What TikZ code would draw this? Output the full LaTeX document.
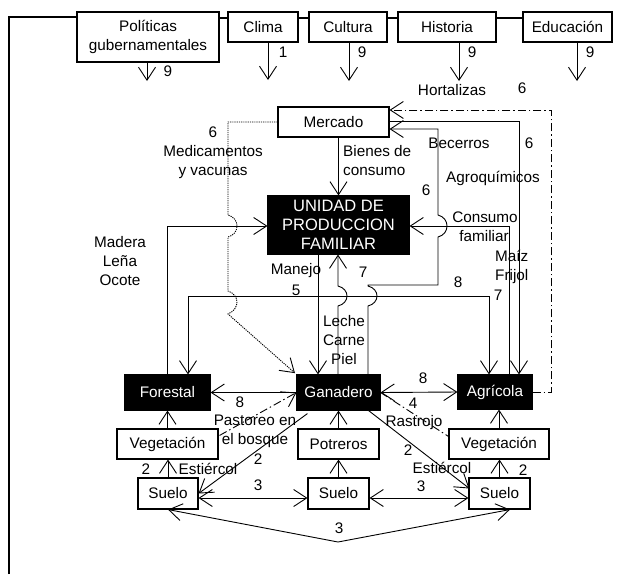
\documentclass[tikz,border=0pt]{standalone}
\usepackage{fontspec}
\setmainfont{Liberation Sans}
\usetikzlibrary{arrows.meta,calc}
\begin{document}
\begin{tikzpicture}[x=1pt,y=-1pt,
  every node/.style={font=\fontsize{15.3}{19}\selectfont},
  box/.style={draw, line width=1.1pt, inner sep=0pt, align=center},
  bbox/.style={box, fill=black, text=white},
  lbl/.style={inner sep=0pt, align=center},
  conn/.style={line width=0.9pt},
  ar/.style={conn, -{Straight Barb[length=13pt,width=17pt]}},
  dar/.style={conn, {Straight Barb[length=13pt,width=17pt]}-{Straight Barb[length=13pt,width=17pt]}},
  dd/.style={dash pattern=on 8pt off 3pt on 1.5pt off 3pt},
  dots/.style={dash pattern=on 1.2pt off 1pt},
]
\useasboundingbox (0,0) rectangle (623,576);

% top row
\node[box, minimum width=142pt, minimum height=50pt] (pol) at (148,37) {Políticas\\gubernamentales};
\node[box, minimum width=70pt, minimum height=30pt] (clima) at (263,27) {Clima};
\node[box, minimum width=78pt, minimum height=30pt] (cult) at (348,27) {Cultura};
\node[box, minimum width=98pt, minimum height=30pt] (hist) at (447,27) {Historia};
\node[box, minimum width=89pt, minimum height=30pt] (edu) at (567.5,27) {Educación};

% main nodes
\node[box, minimum width=111pt, minimum height=30pt] (merc) at (333.5,122) {Mercado};
\node[bbox, minimum width=141pt, minimum height=58pt, font=\fontsize{16.5}{19}\selectfont] (und) at (338.5,225) {UNIDAD DE\\PRODUCCION\\FAMILIAR};
\node[bbox, minimum width=85pt, minimum height=35pt] (for) at (167.5,392.5) {Forestal};
\node[bbox, minimum width=83pt, minimum height=35pt] (gan) at (338.5,392.5) {Ganadero};
\node[bbox, minimum width=74pt, minimum height=34pt] (agr) at (495,392) {Agrícola};
\node[box, minimum width=101pt, minimum height=30pt] (veg1) at (167.5,444) {Vegetación};
\node[box, minimum width=81pt, minimum height=30pt] (pot) at (338.5,444) {Potreros};
\node[box, minimum width=100pt, minimum height=30pt] (veg2) at (499,444) {Vegetación};
\node[box, minimum width=60pt, minimum height=31pt] (s1) at (168,493.5) {Suelo};
\node[box, minimum width=61pt, minimum height=31pt] (s2) at (338.5,493.5) {Suelo};
\node[box, minimum width=61pt, minimum height=31pt] (s3) at (499.5,493.5) {Suelo};

% left bracket and top links
\coordinate (lb) at (9,574);
\draw[line width=1.8pt] (lb) -- (9,17) -- (pol.west |- 0,17);
\draw[line width=1.1pt] (pol.east |- 0,18) -- (clima.west |- 0,18);
\draw[line width=1.1pt] (clima.east |- 0,18) -- (cult.west |- 0,18);
\draw[line width=1.1pt] (cult.east |- 0,18) -- (hist.west |- 0,18);
\draw[line width=1.1pt] (hist.east |- 0,18) -- (edu.west |- 0,18);

% influence arrows from top
\coordinate (e1) at (147,81);
\coordinate (e2) at (268,80);
\coordinate (e3) at (349,81);
\coordinate (e4) at (459,81);
\coordinate (e5) at (577,81);
\draw[ar] (pol.south -| e1) -- (e1);
\draw[ar] (clima.south -| e2) -- (e2);
\draw[ar] (cult.south -| e3) -- (e3);
\draw[ar] (hist.south -| e4) -- (e4);
\draw[ar] (edu.south -| e5) -- (e5);
\node[lbl] at (168,71) {9};
\node[lbl] at (283,52) {1};
\node[lbl] at (362,52) {9};
\node[lbl] at (472,52) {9};
\node[lbl] at (590,52) {9};

% Hortalizas (dash-dot) Agrícola -> Mercado
\draw[ar, dd] (agr.east) -- (551,392) -- (551,110) -- (merc.east |- 0,110);
\node[lbl] at (452,90) {Hortalizas};
\node[lbl] at (522,88) {6};

% Agroquímicos Mercado -> Agrícola
\draw[ar] (merc.east |- 0,121) -- (519,121) -- (agr.north -| 519,0);
\node[lbl] at (493,178) {Agroquímicos};
\node[lbl] at (529,143) {6};

% Becerros Ganadero -> Mercado
\draw[ar] (gan.north -| 368,0) -- (368,306) .. controls (380,303) and (380,289) .. (368,286) -- (368,285) -- (438,285)
  -- (438,237) .. controls (450,234) and (450,218) .. (438,215) -- (438,129) -- (merc.east |- 0,129);
\node[lbl] at (459,143) {Becerros};

% Consumo familiar Agrícola -> UNIDAD
\draw[ar] (agr.north -| 509,0) -- (509,226) -- (und.east |- 0,226);
\node[lbl] at (485,217) {Consumo};
\node[lbl] at (484,236) {familiar};
\node[lbl] at (426,190) {6};
\node[lbl, align=left, anchor=west] at (495,267) {Maíz\\Frijol};
\node[lbl] at (498,295) {7};

% Bienes de consumo
\draw[ar] (merc.south -| und.north) -- (und.north);
\node[lbl, align=left, anchor=west] at (343,161) {Bienes de\\consumo};

% Medicamentos (dotted) Mercado -> Ganadero
\draw[ar, dots, shorten >=2pt] (merc.west) -- (228,122) -- (228,215) .. controls (240,218) and (240,234) .. (228,237)
  -- (228,291) .. controls (240,295) and (240,309) .. (228,314) -- (gan.north west);
\node[lbl] at (213,153) {6\\Medicamentos\\y vacunas};

% Madera Forestal -> UNIDAD
\draw[ar] (for.north -| 167,0) -- (167,226) -- (und.west |- 0,226);
\node[lbl] at (120,261) {Madera\\Leña\\Ocote};

% Manejo
\draw[ar] (und.south -| 318,0) -- (gan.north -| 318,0);
\draw[dar] (for.north -| 188,0) -- (188,296) -- (489,296) -- (agr.north -| 489,0);
\node[lbl] at (296,271) {Manejo};
\node[lbl] at (296,290) {5};
\node[lbl] at (458,282) {8};

% Leche Carne Piel Ganadero -> UNIDAD
\draw[ar] (gan.north -| 338,0) -- (338,306) .. controls (350,303) and (350,289) .. (338,286) -- (und.south -| 338,0);
\node[lbl] at (363,272) {7};
\node[lbl] at (344,340) {Leche\\Carne\\Piel};

% middle row links
\draw[ar] (gan.west) -- (for.east);
\node[lbl] at (240,402) {8};
\draw[dar] (gan.east) -- (agr.west);
\node[lbl] at (423,378) {8};
\node[lbl] at (413,403) {4};
\draw[conn, dd] (gan.east) -- ($(veg2.north west)+(0,8)$);
\node[lbl] at (414,423) {Rastrojo};
\draw[ar, dd] ($(veg1.north east)+(1,7)$) -- (gan.west);
\node[lbl] at (255,431) {Pastoreo en\\el bosque};
\draw[ar] ($(gan.south west)+(11,3)$) -- (s1.east);
\node[lbl] at (258,459) {2};
\draw[ar] ($(gan.south east)+(-12,0)$) -- ($(s3.west)+(1,-5)$);
\node[lbl] at (408,450) {2};
\node[lbl] at (442,468) {Estiércol};
\node[lbl] at (208,469) {Estiércol};

% vertical arrows
\draw[ar] (veg1.north) -- (for.south);
\draw[ar] (pot.north) -- (gan.south);
\draw[ar] (veg2.north) -- (agr.south -| veg2.north);
\draw[ar] (s1.north) -- (veg1.south -| s1.north);
\draw[ar] (s2.north) -- (pot.south -| s2.north);
\draw[ar] (s3.north) -- (veg2.south -| s3.north);
\node[lbl] at (146,469) {2};
\node[lbl] at (523,470) {2};

% soil links
\draw[dar] (s1.east |- 0,498) -- (s2.west |- 0,498);
\draw[dar] (s2.east |- 0,498) -- (s3.west |- 0,498);
\node[lbl] at (258,485) {3};
\node[lbl] at (421,486) {3};
\coordinate (bot) at (338,542);
\draw[dar] (s1.south) -- (bot) -- (s3.south -| 510,0);
\node[lbl] at (339,528) {3};
\end{tikzpicture}
\end{document}
